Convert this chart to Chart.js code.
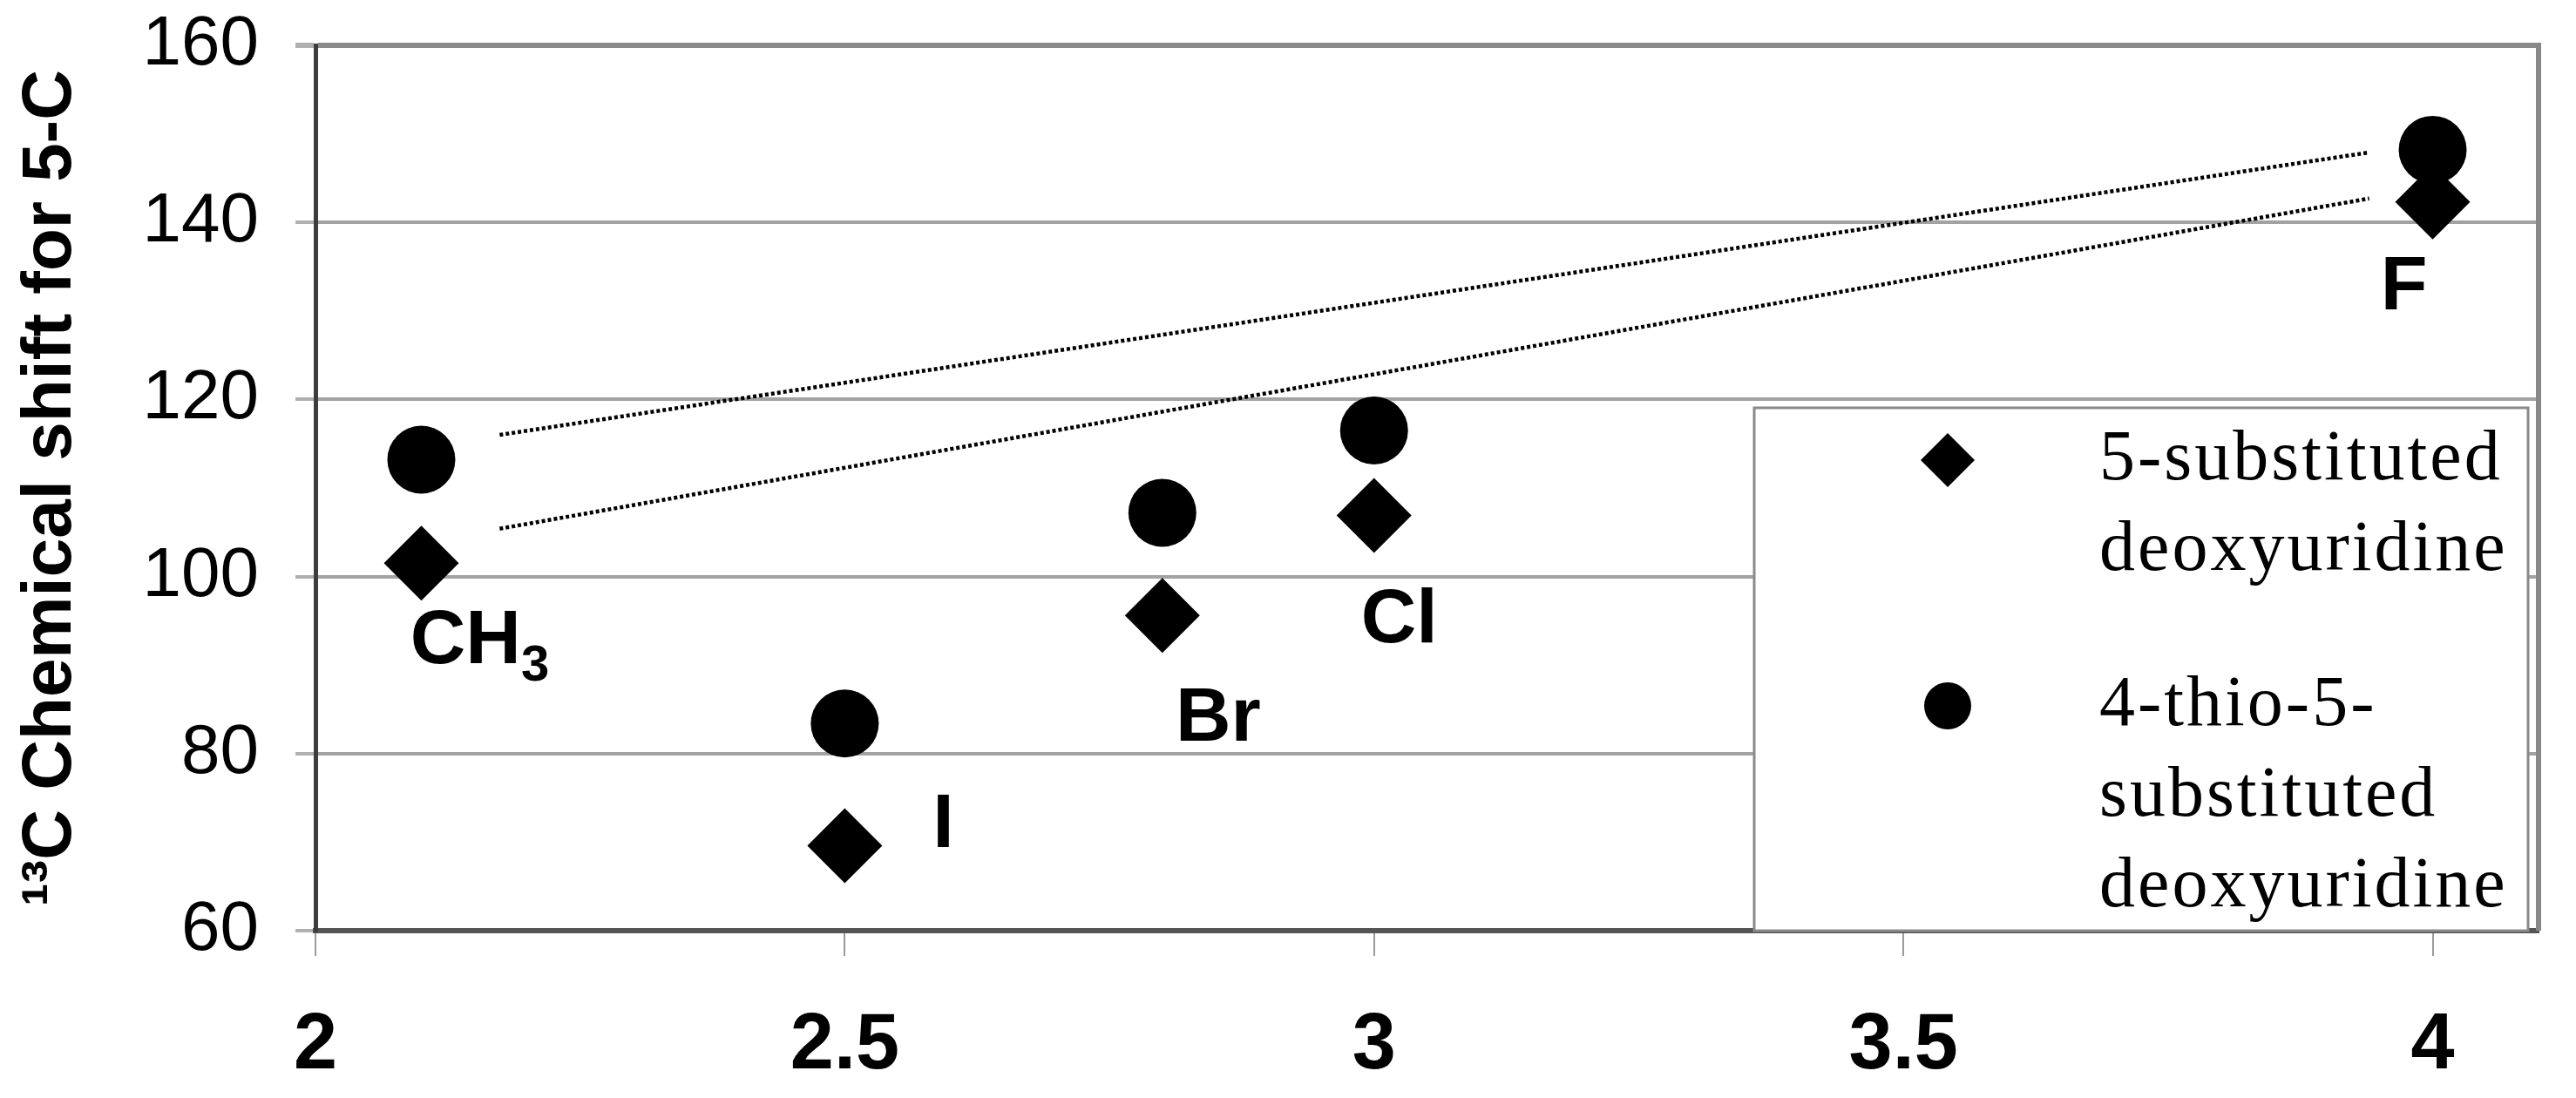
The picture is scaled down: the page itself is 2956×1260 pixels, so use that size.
<!DOCTYPE html>
<html><head><meta charset="utf-8">
<script src="https://cdn.jsdelivr.net/npm/chart.js@4.4.1/dist/chart.umd.min.js"></script>
<style>html,body{margin:0;padding:0;background:#fff;}#wrap{width:2956px;height:1260px;}canvas{display:block;}</style>
</head><body><div id="wrap"><canvas id="c" width="2956" height="1260"></canvas></div>
<script>
// ---- data ----
const substituents = ['CH3', 'I', 'Br', 'Cl', 'F'];
const electronegativity = [2.1, 2.5, 2.8, 3.0, 4.0];
const shiftDeoxyuridine = [101.5, 69.6, 95.6, 106.9, 142.3];
const shiftThioDeoxyuridine = [113.2, 83.4, 107.2, 116.5, 148.2];
const seriesNames = ['5-substituted\ndeoxyuridine', '4-thio-5-\nsubstituted\ndeoxyuridine'];
const trendX = [2.174, 3.94];
const trendDeoxyuridine = [105.4, 142.7];
const trendThioDeoxyuridine = [116.0, 147.9];
const xTickValues = [2, 2.5, 3, 3.5, 4];
const yTickValues = [60, 80, 100, 120, 140, 160];
const yAxisTitle = '\u00B9\u00B3C Chemical shift for 5-C';

const SANS = "'Liberation Sans', Arial, Helvetica, sans-serif";
const SERIF = "'Liberation Serif', 'Times New Roman', serif";
Chart.defaults.font.family = SANS;
Chart.defaults.color = '#000';

const pts = (xs, ys) => xs.map((x, i) => ({x, y: ys[i]}));

function drawMarker(ctx, style, x, y, r) {
  ctx.beginPath();
  if (style === 'rectRot') {
    ctx.moveTo(x - r, y); ctx.lineTo(x, y - r); ctx.lineTo(x + r, y); ctx.lineTo(x, y + r); ctx.closePath();
  } else {
    ctx.arc(x, y, r, 0, Math.PI * 2);
  }
  ctx.fillStyle = '#000';
  ctx.fill();
}

const framePlugin = {
  id: 'frame',
  beforeDatasetsDraw(chart) {
    const a = chart.chartArea, ctx = chart.ctx;
    ctx.save();
    ctx.strokeStyle = '#888';
    ctx.lineWidth = 6;
    ctx.beginPath();
    ctx.moveTo(a.right, a.top - 3); ctx.lineTo(a.right, a.bottom);
    ctx.stroke();
    ctx.restore();
  }
};

const pointLabelPlugin = {
  id: 'pointLabels',
  afterDatasetsDraw(chart) {
    const ctx = chart.ctx, xs = chart.scales.x, ys = chart.scales.y;
    const offsets = [[67, 115], [113, 2], [64, 144], [29, 146], [-33, 123]];
    ctx.save();
    ctx.fillStyle = '#000';
    ctx.textBaseline = 'alphabetic';
    ctx.textAlign = 'left';
    substituents.forEach((lab, i) => {
      const px = xs.getPixelForValue(electronegativity[i]) + offsets[i][0];
      const py = ys.getPixelForValue(shiftDeoxyuridine[i]) + offsets[i][1];
      const m = lab.match(/^([^0-9]*)([0-9]*)$/);
      const main = m[1], sub = m[2];
      ctx.font = 'bold 88px ' + SANS;
      const wMain = ctx.measureText(main).width;
      ctx.font = 'bold 58px ' + SANS;
      const wSub = sub ? ctx.measureText(sub).width : 0;
      let x0 = px - (wMain + wSub) / 2;
      ctx.font = 'bold 88px ' + SANS;
      ctx.fillText(main, x0, py);
      if (sub) {
        ctx.font = 'bold 58px ' + SANS;
        ctx.fillText(sub, x0 + wMain, py + 20);
      }
    });
    ctx.restore();
  }
};

const legendPlugin = {
  id: 'boxLegend',
  afterDraw(chart) {
    const a = chart.chartArea, ctx = chart.ctx;
    const box = {left: a.right - 900, top: a.top + 416, right: a.right - 12, bottom: a.bottom};
    ctx.save();
    ctx.fillStyle = '#fff';
    ctx.fillRect(box.left, box.top, box.right - box.left, box.bottom - box.top);
    ctx.strokeStyle = '#8a8a8a';
    ctx.lineWidth = 3;
    ctx.strokeRect(box.left, box.top, box.right - box.left, box.bottom - box.top);
    const entries = chart.data.datasets.filter(d => d.inLegend);
    let baseY = box.top + 82;
    const lineH = 104;
    ctx.font = '82px ' + SERIF;
    if ('letterSpacing' in ctx) ctx.letterSpacing = '3px';
    ctx.textBaseline = 'alphabetic';
    ctx.textAlign = 'left';
    entries.forEach(d => {
      drawMarker(ctx, d.pointStyle, box.left + 222, baseY - 22, d.pointStyle === 'rectRot' ? 31 : 27);
      ctx.fillStyle = '#000';
      const lines = d.label.split('\n');
      lines.forEach((t, j) => ctx.fillText(t, box.left + 396, baseY + j * lineH));
      baseY += lines.length * lineH + 74;
    });
    ctx.restore();
  }
};

new Chart(document.getElementById('c'), {
  type: 'scatter',
  data: {
    datasets: [
      {type: 'line', label: 'trend thio', data: pts(trendX, trendThioDeoxyuridine), borderColor: '#000', borderWidth: 4.5, borderDash: [4, 3], pointRadius: 0, fill: false, order: 3},
      {type: 'line', label: 'trend', data: pts(trendX, trendDeoxyuridine), borderColor: '#000', borderWidth: 4.5, borderDash: [4, 3], pointRadius: 0, fill: false, order: 3},
      {label: seriesNames[0], inLegend: true, data: pts(electronegativity, shiftDeoxyuridine), pointStyle: 'rectRot', pointRadius: 43, pointHoverRadius: 43, backgroundColor: '#000', borderColor: '#000', borderWidth: 0, order: 1},
      {label: seriesNames[1], inLegend: true, data: pts(electronegativity, shiftThioDeoxyuridine), pointStyle: 'circle', pointRadius: 39, pointHoverRadius: 39, backgroundColor: '#000', borderColor: '#000', borderWidth: 0, order: 2}
    ]
  },
  options: {
    responsive: false,
    animation: false,
    devicePixelRatio: 1,
    layout: {padding: {top: 52, right: 23, left: 0, bottom: 0}},
    plugins: {legend: {display: false}, tooltip: {enabled: false}},
    events: [],
    scales: {
      x: {
        type: 'linear', position: 'bottom', min: 2, max: 4.1,
        afterBuildTicks: s => { s.ticks = xTickValues.map(v => ({value: v})); },
        afterFit: s => { s.height = 192; s.paddingLeft = 0; s.paddingRight = 0; },
        ticks: {font: {size: 90, weight: 'bold'}, color: '#000', padding: 50, maxRotation: 0, autoSkip: false, callback: v => String(v)},
        grid: {drawOnChartArea: false, drawTicks: true, tickLength: 29, color: '#9a9a9a', lineWidth: 2},
        border: {display: true, color: '#555', width: 6}
      },
      y: {
        type: 'linear', position: 'left', min: 60, max: 160,
        afterBuildTicks: s => { s.ticks = yTickValues.map(v => ({value: v})); },
        afterFit: s => { s.width = 362; s.paddingTop = 0; s.paddingBottom = 0; },
        ticks: {font: {size: 80}, color: '#000', padding: 42},
        grid: {
          drawTicks: true, tickLength: 23,
          color: c => c.tick && c.tick.value === 60 ? 'rgba(0,0,0,0)' : (c.tick && c.tick.value === 160 ? '#8a8a8a' : '#a2a2a2'),
          tickColor: '#b0b0b0',
          lineWidth: c => c.tick && c.tick.value === 160 ? 6 : 4
        },
        border: {display: true, color: '#3c3c3c', width: 5},
        title: {display: true, text: yAxisTitle, font: {size: 80, weight: 'bold'}, color: '#000', padding: {top: 11, bottom: 0}}
      }
    }
  },
  plugins: [framePlugin, pointLabelPlugin, legendPlugin]
});
</script>
</body></html>
